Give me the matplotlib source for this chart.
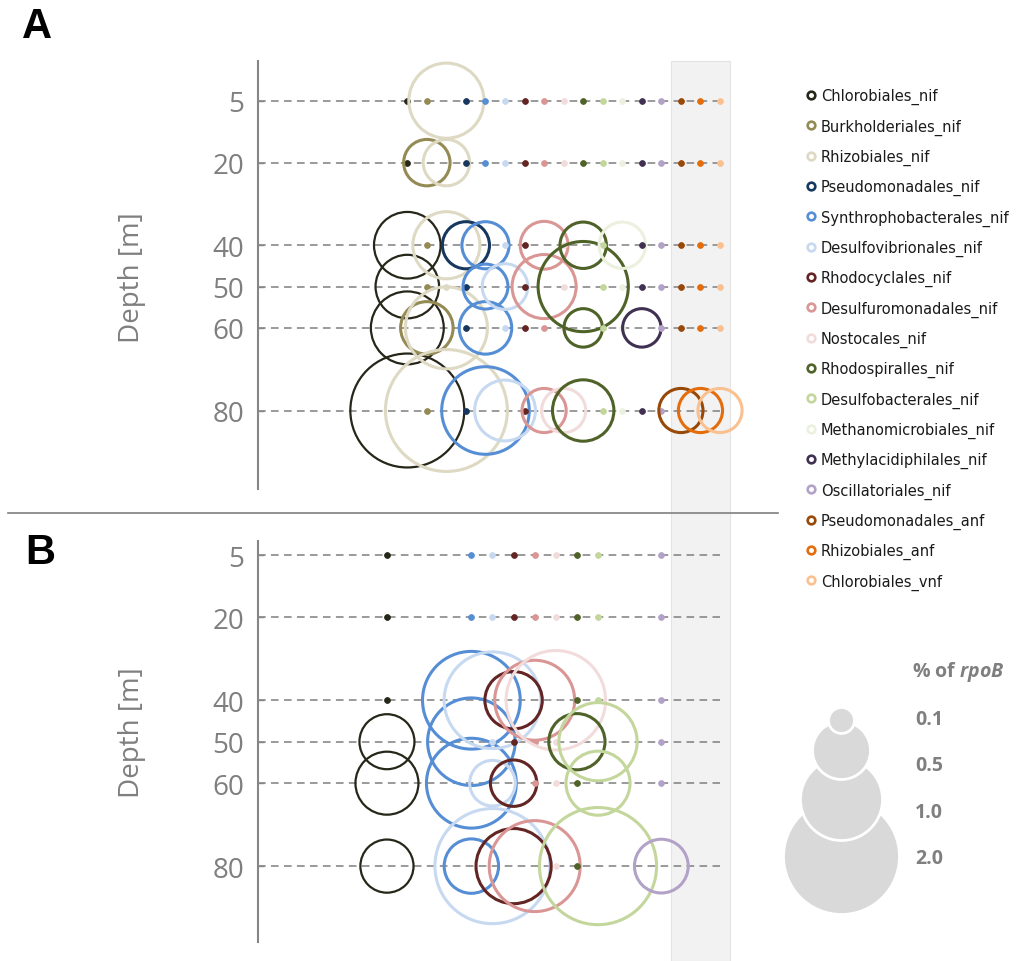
import numpy as np
import matplotlib.pyplot as plt
from matplotlib.lines import Line2D
from matplotlib.patches import Rectangle

# nif / anf / vnf orders, in legend order
ORDERS = [
    "Chlorobiales_nif", "Burkholderiales_nif", "Rhizobiales_nif",
    "Pseudomonadales_nif", "Synthrophobacterales_nif", "Desulfovibrionales_nif",
    "Rhodocyclales_nif", "Desulfuromonadales_nif", "Nostocales_nif",
    "Rhodospiralles_nif", "Desulfobacterales_nif", "Methanomicrobiales_nif",
    "Methylacidiphilales_nif", "Oscillatoriales_nif", "Pseudomonadales_anf",
    "Rhizobiales_anf", "Chlorobiales_vnf",
]

COLORS = [
    "#262619", "#948a54", "#ddd9c3", "#17375e", "#558ed5", "#c6d9f1",
    "#632523", "#d99694", "#f2dcdb", "#4f6228", "#c3d69b", "#ebf1de",
    "#403152", "#b3a2c7", "#984807", "#e46c0a", "#fac090",
]

DEPTHS = [5, 20, 40, 50, 60, 80]

T = 0.005      # trace abundance (small dot)
N = np.nan     # order not present

# % of rpoB, rows = depths, columns = ORDERS
panel_a = [
    [T, T, 0.84, T, T, T, T, T, T, T, T, T, T, T, T, T, T],
    [T, 0.32, 0.32, T, T, T, T, T, T, T, T, T, T, T, T, T, T],
    [0.66, T, 0.67, 0.33, 0.33, T, T, 0.34, T, 0.32, T, 0.32, T, T, T, T, T],
    [0.60, T, T, T, 0.30, 0.31, T, 0.61, T, 1.21, T, T, T, T, T, T, T],
    [0.79, 0.41, 1.00, T, 0.41, T, T, T, T, 0.22, T, T, 0.22, T, T, T, T],
    [1.93, T, 2.21, T, 1.14, 0.55, T, 0.29, 0.29, 0.56, T, T, T, T, 0.29, 0.29, 0.29],
]

panel_b = [
    [T, N, N, N, T, T, T, T, T, T, T, N, N, T, N, N, N],
    [T, N, N, N, T, T, T, T, T, T, T, N, N, T, N, N, N],
    [T, N, N, N, 1.42, 1.39, 0.49, 0.95, 1.47, T, T, N, N, T, N, N, N],
    [0.45, N, N, N, 1.14, T, T, T, T, 0.47, 0.91, N, N, T, N, N, N],
    [0.59, N, N, N, 1.20, 0.31, 0.32, T, T, T, 0.61, N, N, T, N, N, N],
    [0.42, N, N, N, 0.44, 1.97, 0.84, 1.23, T, T, 2.04, N, N, 0.43, N, N, N],
]

SIZE_LEVELS = [0.1, 0.5, 1.0, 2.0]
SIZE_LABELS = ["0.1", "0.5", "1.0", "2.0"]

W, H = 1019, 962
SIZE_K = 3486          # scatter area (pt^2) per 1 % of rpoB
GREY = "#7f7f7f"

plt.rcParams["font.family"] = ["Open Sans", "DejaVu Sans"]
plt.rcParams["mathtext.fontset"] = "custom"
plt.rcParams["mathtext.it"] = "Open Sans:italic:bold"
plt.rcParams["mathtext.rm"] = "Open Sans:bold"

fig = plt.figure(figsize=(W / 100, H / 100), dpi=100)

# background axes in pixel coordinates
ax_bg = fig.add_axes([0, 0, 1, 1])
ax_bg.set_xlim(0, W)
ax_bg.set_ylim(H, 0)
ax_bg.axis("off")


def px_box(left, top, right, bottom):
    return [left / W, 1 - bottom / H, (right - left) / W, (bottom - top) / H]


ax_a = fig.add_axes(px_box(258, 62, 720, 490))
ax_b = fig.add_axes(px_box(258, 542, 720, 943))


def style_axis(ax, xlim, ylim):
    ax.set_facecolor("none")
    ax.set_xlim(*xlim)
    ax.set_ylim(*ylim)
    for side in ["top", "right", "bottom"]:
        ax.spines[side].set_visible(False)
    ax.spines["left"].set_color("#868686")
    ax.spines["left"].set_linewidth(1.5)
    ax.set_xticks([])
    ax.set_yticks(DEPTHS)
    ax.set_yticklabels([str(d) for d in DEPTHS])
    ax.tick_params(axis="y", direction="in", length=4, width=1,
                   color="#868686", labelcolor=GREY, labelsize=20, pad=10)
    for d in DEPTHS:
        ax.axhline(d, color=GREY, ls=(0, (5, 3.5)), lw=1.1, zorder=1)


def draw_bubbles(ax, values):
    vals = np.array(values, dtype=float)
    for j, color in enumerate(COLORS):
        lw = 1.6 if j == 0 else 2.2
        for i, depth in enumerate(DEPTHS):
            v = vals[i, j]
            if np.isnan(v):
                continue
            if v < 0.05:
                ax.scatter(j, depth, s=SIZE_K * v, color=color, lw=0.6,
                           edgecolors=color, zorder=3, clip_on=False)
            else:
                ax.scatter(j, depth, s=SIZE_K * v, facecolors="none",
                           edgecolors=color, linewidths=lw, zorder=3,
                           clip_on=False)


style_axis(ax_a, (-7.64, 16), (99, -4.6))
style_axis(ax_b, (-6.11, 15.78), (98.3, 1.6))
draw_bubbles(ax_a, panel_a)
draw_bubbles(ax_b, panel_b)

# grey band behind the anf / vnf columns, through both panels
x0 = ax_a.transData.transform((13.5, 0))[0]
x1 = ax_a.transData.transform((16.5, 0))[0]
band_top = (1 - ax_a.get_position().y1) * H
ax_bg.add_patch(Rectangle((x0, band_top), x1 - x0, H - band_top,
                          facecolor="#f2f2f2", edgecolor="#e3e3e3", lw=0.8,
                          zorder=0))

# separator between the panels
ax_bg.plot([8, 778], [514, 514], color=GREY, lw=1.2)

fig.text(37 / W, 1 - 27 / H, "A", fontsize=30, fontweight="bold",
         ha="center", va="center", family="Liberation Sans")
fig.text(40 / W, 1 - 553 / H, "B", fontsize=30, fontweight="bold",
         ha="center", va="center", family="Liberation Sans")

fig.text(132 / W, 1 - 278 / H, "Depth [m]", rotation=90, fontsize=20,
         color=GREY, ha="center", va="center")
fig.text(132 / W, 1 - 733 / H, "Depth [m]", rotation=90, fontsize=20,
         color=GREY, ha="center", va="center")

# colour legend
handles = [
    Line2D([], [], marker="o", ls="none", markersize=5.5,
           markerfacecolor="white", markeredgecolor=c, markeredgewidth=1.9)
    for c in COLORS
]
fig.legend(handles, ORDERS, loc="upper left",
           bbox_to_anchor=(807 / W, 1 - 89 / H), frameon=False,
           prop={"family": "DejaVu Sans", "size": 10.5},
           labelcolor="#1a1a1a",
           handlelength=0.6, handletextpad=0.35, labelspacing=0.97,
           borderpad=0, borderaxespad=0)

# bubble size legend
size_y = [721, 751, 800, 857]
label_y = [720, 766, 813, 859]
for lvl, yc in sorted(zip(SIZE_LEVELS, size_y), reverse=True):
    ax_bg.scatter(841, yc, s=SIZE_K * lvl, facecolor="#d9d9d9",
                  edgecolor="white", linewidths=2, zorder=2)
for lab, yl in zip(SIZE_LABELS, label_y):
    ax_bg.text(915, yl, lab, fontsize=14, fontweight="bold", color=GREY,
               ha="left", va="center")
ax_bg.text(912, 672, r"% of $\mathit{rpoB}$", fontsize=14, fontweight="bold",
           color=GREY, ha="left", va="center")

fig.savefig("out.png", dpi=100)
